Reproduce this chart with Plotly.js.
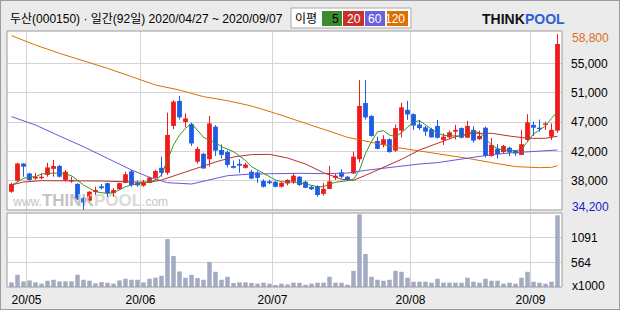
<!DOCTYPE html>
<html>
<head>
<meta charset="utf-8">
<script src="https://cdn.plot.ly/plotly-3.0.1.min.js"></script>
<style>
html,body{margin:0;padding:0;background:#ebebeb;overflow:hidden;}
#wrap{position:relative;width:620px;height:310px;}
#chart{position:absolute;left:0;top:0;width:620px;height:310px;}
#frame{position:absolute;left:0;top:0;width:620px;height:310px;box-sizing:border-box;border:1px solid #9c9c9c;pointer-events:none;}
</style>
</head>
<body>
<div id="wrap"><div id="chart"></div><div id="frame"></div></div>
<script>
// ---- data (daily, 2020/04/27 ~ 2020/09/07, 92 trading days) ----
const open = [36750,38300,40700,39300,38600,38650,39100,39950,40350,38400,
  38200,37850,35850,35500,36700,37500,37950,36550,37100,38000,
  39600,38000,37600,38000,38700,40100,39400,45950,49450,46500,
  46200,40950,42050,41300,45850,42600,42300,40350,40650,40100,
  39550,39450,38250,38200,38150,37450,37900,38150,38850,38150,
  37450,37550,36450,37150,38700,39450,38850,39300,41300,49150,
  47350,43850,43300,44100,42500,45300,48200,47600,46150,45750,
  45500,45950,44000,44350,45150,45650,44300,45400,44100,45700,
  41750,42750,42300,42900,42450,41900,44000,46100,45700,46100,
  44450,45300];
const close = [37850,40700,40250,38400,38850,38850,40150,40350,38850,39550,
  38400,35700,35250,36750,37000,37250,36550,37000,37950,39200,
  37700,37650,38150,38700,39650,39400,44700,49350,47150,47000,
  43500,42750,40000,46300,42500,41900,40500,40100,40400,40550,
  38600,38700,37450,37950,37450,38000,38400,39000,37700,37300,
  37100,36300,37150,38200,39000,38850,38400,41650,48750,47150,
  44550,42750,44100,42300,45650,48550,47550,46000,45650,45150,
  44350,44300,44450,45050,45400,44300,45950,43900,44550,41750,
  43300,42000,43150,42250,42100,43400,46450,45700,45500,46300,
  45400,57400];
const high = [38000,40800,40700,39400,39400,39300,40800,41200,40500,39800,
  38850,37950,35950,36850,37450,37850,38000,37250,38000,39550,
  39800,38300,38400,38850,39800,41650,47800,49550,50150,47700,
  46400,43050,42200,47350,46050,43350,42500,41100,41300,40800,
  39800,39700,38500,38400,38250,38150,38500,39300,38950,38300,
  37550,37650,37950,40350,39250,39900,38950,42350,52350,52350,
  47450,44450,44650,44200,46150,49200,49450,47700,46800,45950,
  45700,46800,44900,45300,46100,45750,46650,45900,45300,45850,
  44250,43400,43300,43050,42550,45400,47600,46550,46850,46550,
  46300,58800];
const low = [36600,38150,38850,38300,38400,38500,38850,38850,38750,38150,
  38000,35600,34200,35400,36300,37100,36050,36050,37000,37950,
  37450,37450,37450,37950,38600,38850,39100,45500,46850,45750,
  43150,40700,40000,40250,41750,41400,40150,40000,39400,40000,
  38500,38000,37350,37800,37350,37350,37650,37850,37550,37250,
  37000,36050,36200,37100,38400,38600,38300,39250,40850,46850,
  44450,42700,42950,42200,42350,44350,46800,45400,45400,44550,
  44350,44200,43300,44200,44050,44200,44300,43600,44000,41550,
  41650,41400,42050,41750,41750,41900,43850,44550,45150,45400,
  44000,45000];
// volume, x1000 shares
const volume = [136,298,157,178,136,108,171,192,157,157,
  157,298,192,171,115,143,129,108,178,214,
  192,192,136,214,235,277,1061,701,369,235,
  298,228,192,574,362,192,256,122,136,136,
  122,108,129,108,79,108,93,129,129,86,
  108,129,129,256,129,129,86,383,1590,743,
  256,192,171,192,383,362,235,150,150,150,
  129,214,129,129,129,129,235,150,129,214,
  171,171,108,129,108,235,362,150,129,108,
  150,1569];
// moving averages (day index -> price)
const ma5 = [37650,38160,38630,38810,38860,39230,39330,39370,39330,39230,
  39000,38390,37700,37230,36760,36620,36530,36620,37090,37460,
  37700,37830,38020,38160,38390,39090,41190,43290,44680,45620,
  46310,45380,44360,43980,43610,43050,42680,42350,41750,41100,
  40260,39790,39330,38770,38390,38160,38160,38070,38020,37830,
  37650,37460,37460,37830,38070,38160,38300,38490,39790,42120,
  43750,45150,45290,44680,44450,45010,45760,46500,46690,46080,
  45480,44920,44640,44540,44540,44540,44870,45200,45010,44220,
  43290,42770,42590,42540,42490,42680,43750,44820,45380,45940,
  47010,47950];
const ma20Idx = [0,2,5,10,15,20,23,25,28,31,34,37,40,43,46,49,52,55,57,59,62,65,68,71,74,77,80,83,86,89,91];
const ma20Val = [37700,38110,38300,38300,38250,38110,38070,38390,39230,40070,40910,41610,41940,41980,41470,40630,39420,38490,38350,39050,40120,41280,42590,43520,44450,44920,44920,44540,44220,44220,44500];
const ma60Idx = [0,4,8,12,16,20,23,26,30,33,36,40,44,48,52,56,59,62,65,68,71,74,77,80,83,86,89,91];
const ma60Val = [47250,46080,44540,43050,41420,39790,38770,38020,37830,38390,39000,39230,39330,39330,39280,39370,39740,40070,40350,40630,40820,41190,41560,41940,42170,42310,42400,42590];
const ma120Idx = [0,4,8,12,16,20,24,28,32,36,40,44,48,52,56,60,64,68,72,76,80,84,88,90,91];
const ma120Val = [58570,57260,56100,55070,54000,52840,51670,50970,50040,49480,48740,47710,46550,45480,44360,43610,42960,42450,41980,41420,40820,40260,40120,40160,40400];

const monthStartIdx = [3,22,44,67,87];
const monthLabels = ['20/05','20/06','20/07','20/08','20/09'];
const priceTickVals = [38300,42400,46500,50600,54700];
const priceTickText = ['38,000','42,000','47,000','51,000','55,000'];
const priceMax = 58800, priceMin = 34200;
const volTickVals = [564,1091];
const volTickText = ['564','1091'];
const title = '두산(000150) · 일간(92일) 2020/04/27 ~ 2020/09/07';
const maNames = ['5','20','60','120'];

// ---- styles ----
const RED = '#f01c1c', BLUE = '#1c5ce6', VOL = '#a3abc3';
const C5 = '#3d8f2a', C20 = '#b8312a', C60 = '#6657de', C120 = '#dc7000';
const GRID = '#d4d4d4', BORDER = '#9c9c9c';
const FONT = '"Liberation Sans", Arial, "Noto Sans CJK KR", sans-serif';

const idx = open.map((_, i) => i);
const isUp = idx.map(i => close[i] >= open[i]);

function wicks(up) {
  const xs = [], ys = [];
  idx.forEach(i => { if (isUp[i] === up) { xs.push(i, i, null); ys.push(low[i], high[i], null); } });
  return {xs, ys};
}
const wu = wicks(true), wd = wicks(false);

const traces = [
  {type:'scatter', mode:'text', x:[13.2], y:[35350], text:['<span style="font-size:12px">www.</span><b>THINK<span style="color:#dadada">POOL</span></b><span style="font-size:12px">.com</span>'],
   textfont:{family:FONT, size:17, color:'#c4c4c4'}, hoverinfo:'skip', xaxis:'x', yaxis:'y'},
  {type:'scatter', mode:'lines', x:ma120Idx, y:ma120Val, line:{color:C120, width:1}, hoverinfo:'skip'},
  {type:'scatter', mode:'lines', x:ma60Idx, y:ma60Val, line:{color:C60, width:1}, hoverinfo:'skip'},
  {type:'scatter', mode:'lines', x:ma20Idx, y:ma20Val, line:{color:C20, width:1}, hoverinfo:'skip'},
  {type:'scatter', mode:'lines', x:idx, y:ma5, line:{color:C5, width:1}, hoverinfo:'skip'},
  {type:'scatter', mode:'lines', x:wu.xs, y:wu.ys, line:{color:RED, width:1}, connectgaps:false, hoverinfo:'skip'},
  {type:'scatter', mode:'lines', x:wd.xs, y:wd.ys, line:{color:BLUE, width:1}, connectgaps:false, hoverinfo:'skip'},
  {type:'bar', x:idx, base:idx.map(i => Math.min(open[i], close[i])), y:idx.map(i => Math.abs(close[i]-open[i])),
   width:0.8, marker:{color:idx.map(i => isUp[i] ? RED : BLUE), line:{width:0}}, hoverinfo:'skip'},
  {type:'bar', x:idx, y:volume, xaxis:'x', yaxis:'y2', width:0.75, marker:{color:VOL, line:{width:0}}, hoverinfo:'skip'}
];

const L = 7, R = 562, T = 31, B = 287;
const px2x = px => (px - L) / (R - L);
const px2y = py => (B - py) / (B - T);

const shapes = [
  {type:'rect', xref:'x domain', yref:'y domain', x0:0, x1:1, y0:0, y1:1, fillcolor:'#ffffff', line:{width:0}, layer:'below'},
  {type:'rect', xref:'x domain', yref:'y2 domain', x0:0, x1:1, y0:0, y1:1, fillcolor:'#ffffff', line:{width:0}, layer:'below'},
  {type:'rect', xref:'x domain', yref:'y domain', x0:0, x1:1, y0:0, y1:1, line:{color:BORDER, width:1}},
  {type:'rect', xref:'x domain', yref:'y2 domain', x0:0, x1:1, y0:0, y1:1, line:{color:BORDER, width:1}},
  // MA legend box
  {type:'rect', xref:'paper', yref:'paper', x0:px2x(291), x1:px2x(411), y0:px2y(28), y1:px2y(8), fillcolor:'#ffffff', line:{color:'#a8a8a8', width:1}},
  {type:'rect', xref:'paper', yref:'paper', x0:px2x(322), x1:px2x(342), y0:px2y(26), y1:px2y(11), fillcolor:'#3e8a2e', line:{width:0}},
  {type:'rect', xref:'paper', yref:'paper', x0:px2x(343), x1:px2x(364), y0:px2y(26), y1:px2y(11), fillcolor:'#c8302a', line:{width:0}},
  {type:'rect', xref:'paper', yref:'paper', x0:px2x(365), x1:px2x(385), y0:px2y(26), y1:px2y(11), fillcolor:'#6a62dc', line:{width:0}},
  {type:'rect', xref:'paper', yref:'paper', x0:px2x(387), x1:px2x(408), y0:px2y(26), y1:px2y(11), fillcolor:'#dc7000', line:{width:0}}
];

const annotations = [
  {xref:'paper', yref:'paper', x:px2x(8), y:px2y(19), xanchor:'left', yanchor:'middle', text:title, showarrow:false, font:{family:FONT, size:12, color:'#000'}},
  {xref:'paper', yref:'paper', x:px2x(306), y:px2y(18.5), xanchor:'center', yanchor:'middle', text:'이평', showarrow:false, font:{family:FONT, size:12, color:'#000'}},
  {xref:'paper', yref:'paper', x:px2x(341), y:px2y(18.5), xanchor:'right', yanchor:'middle', text:maNames[0], showarrow:false, font:{family:FONT, size:12, color:'#000'}},
  {xref:'paper', yref:'paper', x:px2x(363), y:px2y(18.5), xanchor:'right', yanchor:'middle', text:maNames[1], showarrow:false, font:{family:FONT, size:12, color:'#fff'}},
  {xref:'paper', yref:'paper', x:px2x(384), y:px2y(18.5), xanchor:'right', yanchor:'middle', text:maNames[2], showarrow:false, font:{family:FONT, size:12, color:'#fff'}},
  {xref:'paper', yref:'paper', x:px2x(407), y:px2y(18.5), xanchor:'right', yanchor:'middle', text:maNames[3], showarrow:false, font:{family:FONT, size:12, color:'#fff'}},
  {xref:'paper', yref:'paper', x:px2x(480), y:px2y(19), xanchor:'left', yanchor:'middle', text:'<b>THINK</b>', showarrow:false, font:{family:FONT, size:14, color:'#111'}},
  {xref:'paper', yref:'paper', x:px2x(523), y:px2y(19), xanchor:'left', yanchor:'middle', text:'<b>POOL</b>', showarrow:false, font:{family:FONT, size:14, color:'#2d5fd6'}},
  {xref:'paper', yref:'y', x:1, y:priceMax, xanchor:'left', yanchor:'middle', xshift:8, yshift:-4, text:'58,800', showarrow:false, font:{family:FONT, size:12, color:'#d9701c'}},
  {xref:'paper', yref:'y', x:1, y:priceMin, xanchor:'left', yanchor:'middle', xshift:8, yshift:3, text:'34,200', showarrow:false, font:{family:FONT, size:12, color:'#1c1cc8'}},
  {xref:'paper', yref:'paper', x:1, y:px2y(286), xanchor:'left', yanchor:'middle', xshift:8, text:'x1000', showarrow:false, font:{family:FONT, size:12, color:'#000'}}
];

const layout = {
  width:620, height:310,
  margin:{l:L, r:620-R, t:T, b:310-B, pad:0},
  paper_bgcolor:'#ebebeb', plot_bgcolor:'#ebebeb',
  showlegend:false, barmode:'overlay', hovermode:false,
  font:{family:FONT, size:12, color:'#000'},
  xaxis:{range:[-0.75, 91.75], anchor:'y2', tickvals:monthStartIdx.map(v => v - 0.5), ticktext:monthLabels,
         showgrid:true, gridcolor:GRID, gridwidth:1, zeroline:false, showline:false, ticks:'', ticklabelstandoff:4, fixedrange:true},
  yaxis:{domain:[px2y(210), 1], range:[priceMin, priceMax + (34 - T) * (priceMax - priceMin) / (210 - 34)], side:'right',
         tickvals:priceTickVals, ticktext:priceTickText, showgrid:true, gridcolor:GRID, gridwidth:1, zeroline:false, ticks:'', ticklabelstandoff:8, fixedrange:true},
  yaxis2:{domain:[0, px2y(213)], range:[37, 1618], side:'right', tickvals:volTickVals, ticktext:volTickText,
          showgrid:true, gridcolor:GRID, gridwidth:1, zeroline:false, ticks:'', ticklabelstandoff:8, fixedrange:true},
  shapes:shapes, annotations:annotations
};

Plotly.newPlot('chart', traces, layout, {staticPlot:true, displayModeBar:false});
</script>
</body>
</html>
